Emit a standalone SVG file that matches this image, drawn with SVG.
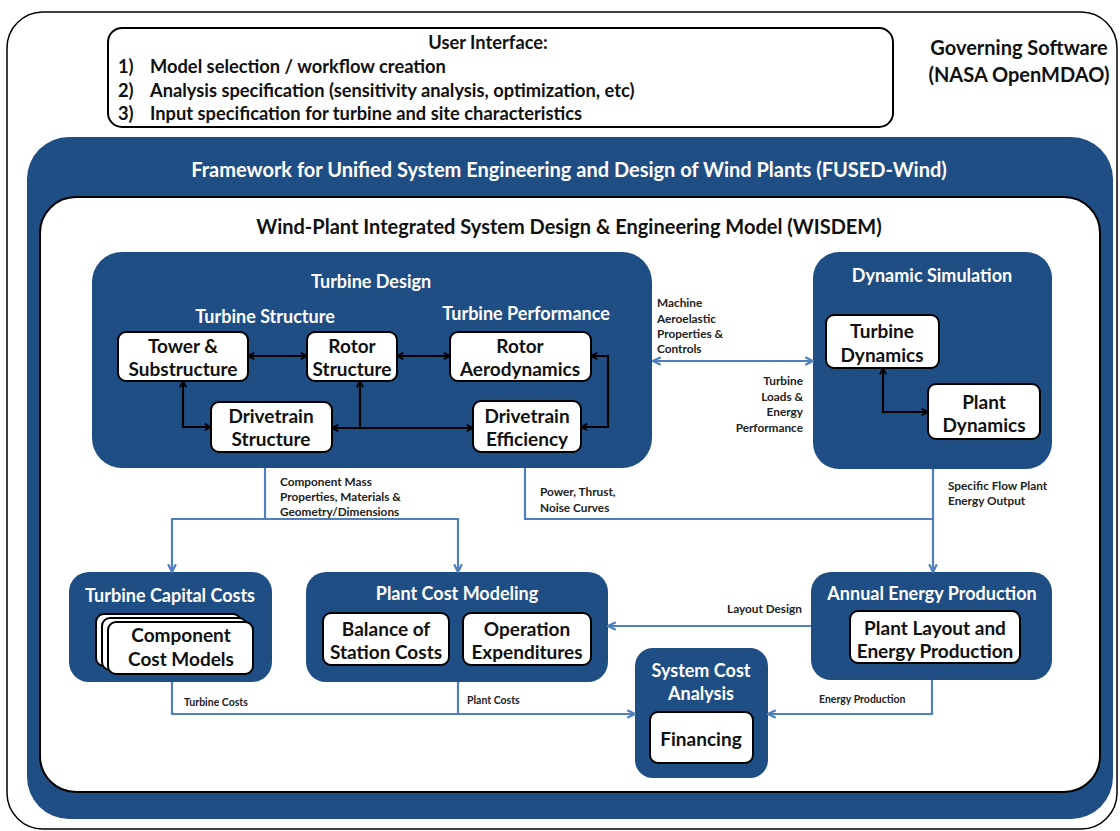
<svg xmlns="http://www.w3.org/2000/svg" width="1120" height="831" viewBox="0 0 1120 831">
<defs>
<style>
text{font-family:Lato,"Liberation Sans",Arial,sans-serif;font-weight:bold;dominant-baseline:central}
.c{text-anchor:middle}
.r{text-anchor:end}
.wt{fill:#fff;font-size:18px}
.bx{fill:#fff;stroke:#000;stroke-width:2}
.nl{fill:#111;font-size:19px}
.blue{fill:#1f4e84}
.sm{fill:#222;font-size:11.8px}
.ui{fill:#111;font-size:18.3px}
.bk{fill:none;stroke:#000;stroke-width:2.2}
.bl{fill:none;stroke:#4f80bb;stroke-width:2.2}
</style>
<marker id="ak" viewBox="0 0 10 10" refX="9" refY="5" markerWidth="9" markerHeight="9" markerUnits="userSpaceOnUse" orient="auto-start-reverse"><path d="M2,1.5 L9,5 L2,8.5" fill="none" stroke="#000" stroke-width="2"/></marker>
<marker id="ab" viewBox="0 0 10 10" refX="9" refY="5" markerWidth="11" markerHeight="11" markerUnits="userSpaceOnUse" orient="auto-start-reverse"><path d="M2,1.5 L9,5 L2,8.5" fill="none" stroke="#4f80bb" stroke-width="2"/></marker>
</defs>
<rect width="1120" height="831" fill="#fff"/>
<rect x="7" y="12" width="1110" height="817" rx="36" fill="none" stroke="#000" stroke-width="1.5"/>
<g id="ui">
<rect x="108" y="28" width="785" height="99" rx="14" fill="#fff" stroke="#000" stroke-width="2"/>
<text class="ui c" x="488" y="42">User Interface:</text>
<text class="ui" x="118" y="66">1)</text><text class="ui" x="150" y="66">Model selection / workflow creation</text>
<text class="ui" x="118" y="90">2)</text><text class="ui" x="150" y="90">Analysis specification (sensitivity analysis, optimization, etc)</text>
<text class="ui" x="118" y="113">3)</text><text class="ui" x="150" y="113">Input specification for turbine and site characteristics</text>
</g>
<g id="governing">
<text class="ui c" x="1019" y="47" style="font-size:20px">Governing Software</text>
<text class="ui c" x="1019" y="74" style="font-size:20px">(NASA OpenMDAO)</text>
</g>
<g id="fused">
<rect class="blue" x="27" y="137" width="1086" height="682" rx="42"/>
<text class="wt c" x="569" y="169" style="font-size:20px">Framework for Unified System Engineering and Design of Wind Plants (FUSED-Wind)</text>
</g>
<g id="wisdem">
<rect x="40" y="197" width="1060" height="595" rx="36" fill="#fff" stroke="#000" stroke-width="2"/>
<text class="c" x="569" y="226" style="font-size:20px;fill:#111">Wind-Plant Integrated System Design &amp; Engineering Model (WISDEM)</text>
</g>
<g id="turbine-design">
<rect class="blue" x="92" y="252" width="560" height="216" rx="30"/>
<text class="wt c" x="371" y="281">Turbine Design</text>
<text class="wt c" x="265" y="316">Turbine Structure</text>
<text class="wt c" x="526" y="313">Turbine Performance</text>
</g>
<g id="tower"><rect class="bx" x="118" y="332" width="130" height="49" rx="8"/><text class="nl c" x="183" y="345">Tower &amp;</text><text class="nl c" x="183" y="368">Substructure</text></g>
<g id="rotor-structure"><rect class="bx" x="307" y="332" width="90" height="49" rx="8"/><text class="nl c" x="352" y="345">Rotor</text><text class="nl c" x="352" y="368">Structure</text></g>
<g id="rotor-aero"><rect class="bx" x="450" y="332" width="141" height="49" rx="8"/><text class="nl c" x="520" y="345">Rotor</text><text class="nl c" x="520" y="368">Aerodynamics</text></g>
<g id="drivetrain-structure"><rect class="bx" x="211" y="402" width="121" height="50" rx="8"/><text class="nl c" x="271" y="415">Drivetrain</text><text class="nl c" x="271" y="438">Structure</text></g>
<g id="drivetrain-efficiency"><rect class="bx" x="473" y="401" width="108" height="51" rx="8"/><text class="nl c" x="527" y="415">Drivetrain</text><text class="nl c" x="527" y="438">Efficiency</text></g>
<g id="dynamic-simulation">
<rect class="blue" x="813" y="252" width="239" height="217" rx="26"/>
<text class="wt c" x="932" y="275">Dynamic Simulation</text>
</g>
<g id="turbine-dynamics"><rect class="bx" x="826" y="315" width="113" height="53" rx="8"/><text class="nl c" x="882" y="330">Turbine</text><text class="nl c" x="882" y="354">Dynamics</text></g>
<g id="plant-dynamics"><rect class="bx" x="928" y="384" width="112" height="55" rx="8"/><text class="nl c" x="984" y="401">Plant</text><text class="nl c" x="984" y="424">Dynamics</text></g>
<g id="turbine-capital">
<rect class="blue" x="69" y="572" width="203" height="110" rx="20"/>
<text class="wt c" x="170" y="595">Turbine Capital Costs</text>
<rect class="bx" x="96" y="614" width="145" height="52" rx="8"/>
<rect class="bx" x="102" y="618" width="145" height="52" rx="8"/>
</g>
<g id="component-cost"><rect class="bx" x="108" y="622" width="145" height="52" rx="8"/><text class="nl c" x="181" y="634">Component</text><text class="nl c" x="181" y="658">Cost Models</text></g>
<g id="plant-cost">
<rect class="blue" x="306" y="572" width="302" height="110" rx="20"/>
<text class="wt c" x="457" y="593">Plant Cost Modeling</text>
</g>
<g id="bos"><rect class="bx" x="323" y="613" width="126" height="52" rx="8"/><text class="nl c" x="386" y="628">Balance of</text><text class="nl c" x="386" y="651">Station Costs</text></g>
<g id="opex"><rect class="bx" x="463" y="613" width="128" height="52" rx="8"/><text class="nl c" x="527" y="628">Operation</text><text class="nl c" x="527" y="651">Expenditures</text></g>
<g id="aep">
<rect class="blue" x="811" y="572" width="241" height="108" rx="20"/>
<text class="wt c" x="932" y="593">Annual Energy Production</text>
</g>
<g id="plant-layout"><rect class="bx" x="850" y="611" width="170" height="52" rx="8"/><text class="nl c" x="935" y="627">Plant Layout and</text><text class="nl c" x="935" y="650">Energy Production</text></g>
<g id="system-cost">
<rect class="blue" x="635" y="648" width="133" height="130" rx="18"/>
<text class="wt c" x="701" y="670">System Cost</text>
<text class="wt c" x="701" y="693">Analysis</text>
</g>
<g id="financing"><rect class="bx" x="650" y="712" width="103" height="51" rx="8"/><text class="nl c" x="701" y="738">Financing</text></g>
<g id="connectors">
<path class="bk" d="M248,356 H307" marker-start="url(#ak)" marker-end="url(#ak)"/>
<path class="bk" d="M397,356 H450" marker-start="url(#ak)" marker-end="url(#ak)"/>
<path class="bk" d="M183,381 V427 H211" marker-start="url(#ak)" marker-end="url(#ak)"/>
<path class="bk" d="M332,428 H473" marker-start="url(#ak)" marker-end="url(#ak)"/>
<path class="bk" d="M360,428 V381" marker-end="url(#ak)"/>
<path class="bk" d="M591,356 H608 V427 H581" marker-start="url(#ak)" marker-end="url(#ak)"/>
<path class="bk" d="M883,368 V412 H928" marker-start="url(#ak)" marker-end="url(#ak)"/>
<path class="bl" d="M653,361 H813" marker-start="url(#ab)" marker-end="url(#ab)"/>
<path class="bl" d="M265,468 V519"/>
<path class="bl" d="M172,572 V519 H458 V572" marker-start="url(#ab)" marker-end="url(#ab)"/>
<path class="bl" d="M525,468 V519 H933"/>
<path class="bl" d="M933,469 V572" marker-end="url(#ab)"/>
<path class="bl" d="M811,626 H608" marker-end="url(#ab)"/>
<path class="bl" d="M172,682 V714 H635" marker-end="url(#ab)"/>
<path class="bl" d="M458,682 V714"/>
<path class="bl" d="M932,680 V714 H768" marker-end="url(#ab)"/>
<text class="sm" x="657" y="302">Machine</text>
<text class="sm" x="657" y="318">Aeroelastic</text>
<text class="sm" x="657" y="333">Properties &amp;</text>
<text class="sm" x="657" y="348">Controls</text>
<text class="sm r" x="803" y="380">Turbine</text>
<text class="sm r" x="803" y="396">Loads &amp;</text>
<text class="sm r" x="803" y="411">Energy</text>
<text class="sm r" x="803" y="427">Performance</text>
<text class="sm" x="280" y="481">Component Mass</text>
<text class="sm" x="280" y="496">Properties, Materials &amp;</text>
<text class="sm" x="280" y="511">Geometry/Dimensions</text>
<text class="sm" x="540" y="491">Power, Thrust,</text>
<text class="sm" x="540" y="507">Noise Curves</text>
<text class="sm" x="948" y="485">Specific Flow Plant</text>
<text class="sm" x="948" y="500">Energy Output</text>
<text class="sm" x="727" y="608">Layout Design</text>
<text class="sm" x="184" y="702" style="font-size:10.5px">Turbine Costs</text>
<text class="sm" x="467" y="700" style="font-size:10.5px">Plant Costs</text>
<text class="sm" x="819" y="699" style="font-size:10.5px">Energy Production</text>
</g>
</svg>
